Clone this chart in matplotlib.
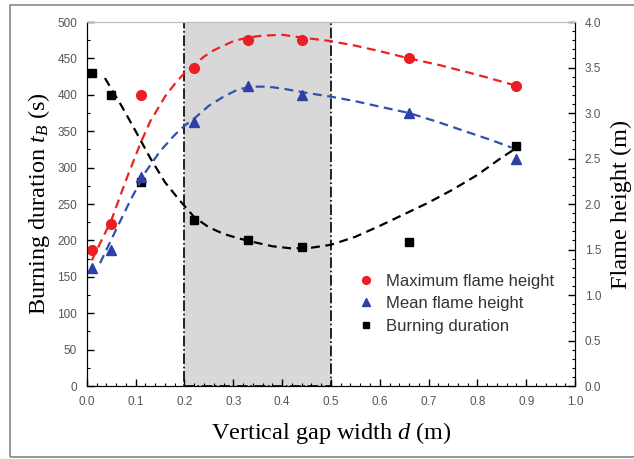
"""Burning duration and flame height vs. vertical gap width."""
import matplotlib

matplotlib.use("Agg")
import matplotlib.pyplot as plt
from matplotlib.patches import Rectangle
from matplotlib.ticker import MultipleLocator

plt.rcParams["font.family"] = ["Liberation Sans", "DejaVu Sans"]
plt.rcParams["mathtext.fontset"] = "custom"
plt.rcParams["mathtext.it"] = "Liberation Serif:italic"
plt.rcParams["mathtext.rm"] = "Liberation Serif"

# measured points
gap_width = [0.01, 0.05, 0.11, 0.22, 0.33, 0.44, 0.66, 0.88]
max_flame_height = [1.5, 1.78, 3.2, 3.5, 3.8, 3.8, 3.6, 3.3]
mean_flame_height = [1.3, 1.5, 2.3, 2.9, 3.3, 3.2, 3.0, 2.5]
burning_duration = [430, 400, 280, 228, 200, 191, 198, 330]

# fitted trend lines
max_fit_x = [0.01, 0.03, 0.05, 0.08, 0.11, 0.13, 0.16, 0.18, 0.20, 0.22, 0.24, 0.26, 0.28,
             0.30, 0.33, 0.36, 0.40, 0.44, 0.50, 0.55, 0.60, 0.66, 0.72, 0.80, 0.88]
max_fit_y = [1.38, 1.60, 1.82, 2.26, 2.67, 2.91, 3.18, 3.32, 3.44, 3.53, 3.62, 3.69, 3.74,
             3.79, 3.83, 3.85, 3.86, 3.83, 3.79, 3.74, 3.68, 3.60, 3.53, 3.42, 3.30]
mean_fit_x = [0.027, 0.06, 0.09, 0.12, 0.15, 0.18, 0.20, 0.22, 0.25, 0.28, 0.31, 0.34,
              0.37, 0.40, 0.44, 0.50, 0.55, 0.60, 0.66, 0.72, 0.78, 0.83, 0.87]
mean_fit_y = [1.35, 1.72, 2.05, 2.35, 2.58, 2.76, 2.86, 2.94, 3.08, 3.18, 3.26, 3.29,
              3.29, 3.27, 3.23, 3.18, 3.13, 3.07, 3.00, 2.90, 2.79, 2.70, 2.62]
dur_fit_x = [0.037, 0.07, 0.10, 0.13, 0.16, 0.19, 0.22, 0.25, 0.28, 0.31, 0.34, 0.38,
             0.42, 0.46, 0.50, 0.55, 0.60, 0.65, 0.70, 0.75, 0.80, 0.85, 0.88]
dur_fit_y = [423, 386, 350, 313, 280, 255, 232, 218, 209, 203, 198, 192,
             189, 190, 194, 205, 220, 236, 252, 270, 290, 314, 327]

shade_range = (0.2, 0.5)

fig = plt.figure(figsize=(6.34, 4.59), dpi=100)
fig.patches.append(Rectangle((0.016, 0.004), 1.2, 0.985, transform=fig.transFigure,
                             fill=False, edgecolor="#888888", linewidth=1.2))
ax = fig.add_axes([0.137, 0.159, 0.770, 0.793])
ax2 = ax.twinx()

ax.axvspan(*shade_range, facecolor="#d8d8d8", edgecolor="black", linestyle="-.",
           linewidth=1.2, zorder=0)

dash = (0, (4, 2.5))
ax2.plot(max_fit_x, max_fit_y, color="#ee2020", linestyle=dash, linewidth=1.6)
ax2.plot(mean_fit_x, mean_fit_y, color="#3050b0", linestyle=dash, linewidth=1.6)
ax.plot(dur_fit_x, dur_fit_y, color="black", linestyle=dash, linewidth=1.6)

h1, = ax2.plot(gap_width, max_flame_height, "o", color="#ee1c24", markersize=7,
               linestyle="none", label="Maximum flame height")
h2, = ax2.plot(gap_width, mean_flame_height, "^", color="#2e3fa8", markersize=7,
               linestyle="none", label="Mean flame height")
h3, = ax.plot(gap_width, burning_duration, "s", color="black", markersize=6,
              linestyle="none", label="Burning duration")

ax.set_xlim(0, 1.0)
ax.set_ylim(0, 500)
ax2.set_ylim(0, 4.0)
ax.xaxis.set_major_locator(MultipleLocator(0.1))
ax.xaxis.set_minor_locator(MultipleLocator(0.02))
ax.yaxis.set_major_locator(MultipleLocator(50))
ax.yaxis.set_minor_locator(MultipleLocator(25))
ax2.yaxis.set_major_locator(MultipleLocator(0.5))
ax2.yaxis.set_minor_locator(MultipleLocator(0.1))

for a in (ax, ax2):
    a.tick_params(which="both", direction="in", labelsize=8.5, labelcolor="#555555", pad=7)
    a.tick_params(which="major", length=5, width=1)
    a.tick_params(which="minor", length=2.5, width=0.8)
    a.spines["top"].set_color("#bbbbbb")
    a.spines["top"].set_linewidth(0.8)
ax.tick_params(axis="y", right=False)
ax.xaxis.set_major_formatter(plt.FuncFormatter(lambda v, _: f"{v:.1f}"))
ax2.yaxis.set_major_formatter(plt.FuncFormatter(lambda v, _: f"{v:.1f}"))

serif = {"family": "Liberation Serif", "size": 17.5}
ax.set_xlabel("Vertical gap width $d$ (m)", fontdict=serif, labelpad=9)
ax.set_ylabel("Burning duration $t_B$ (s)", fontdict=serif, labelpad=4)
ax2.set_ylabel("Flame height (m)", fontdict=serif, labelpad=7)

ax.legend(handles=[h1, h2, h3], loc="upper left", bbox_to_anchor=(0.52, 0.35),
          frameon=False, fontsize=12, labelcolor="#333333", handletextpad=0.6,
          labelspacing=0.45, markerscale=0.8, handlelength=1.2)

fig.savefig("out.png", dpi=100)
